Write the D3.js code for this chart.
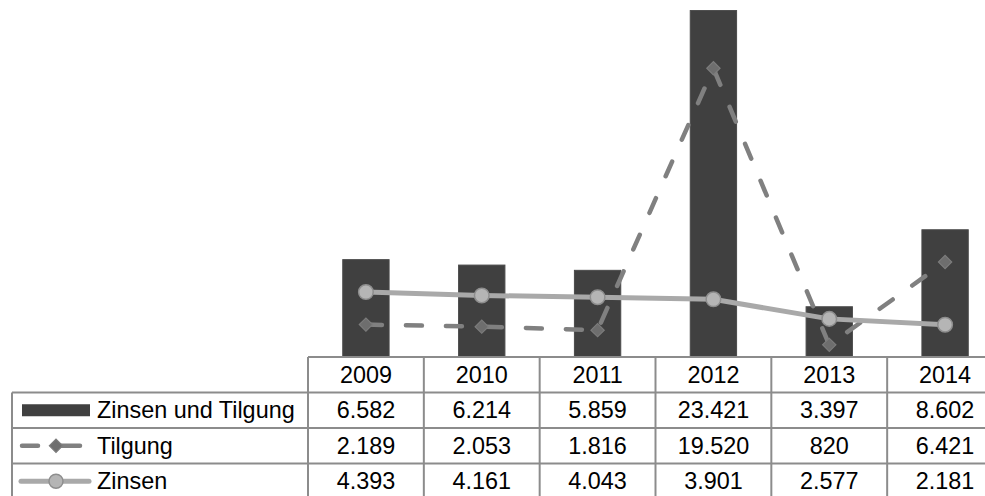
<!DOCTYPE html>
<html>
<head>
<meta charset="utf-8">
<script src="https://cdn.jsdelivr.net/npm/d3@7"></script>
<style>
  html, body { margin: 0; padding: 0; background: #fff; }
  svg { display: block; font-family: "Liberation Sans", Arial, sans-serif; }
</style>
</head>
<body>
<svg id="chart" width="985" height="496"></svg>
<script>
// Jahre und Werte (in Tsd.)
const years = ["2009", "2010", "2011", "2012", "2013", "2014"];
const zinsenUndTilgung = [6582, 6214, 5859, 23421, 3397, 8602];
const tilgung = [2189, 2053, 1816, 19520, 820, 6421];
const zinsen = [4393, 4161, 4043, 3901, 2577, 2181];
const seriesNames = ["Zinsen und Tilgung", "Tilgung", "Zinsen"];

const svg = d3.select("#chart");
const W = 985, H = 496;

const plotLeft = 308, plotRight = 1003;   // last column runs past the visible edge
const plotTop = 2, baseY = 357;
const rowH = 35.5;

const de = d3.formatLocale({ decimal: ",", thousands: ".", grouping: [3], currency: ["", " €"] });
const fmt = de.format(",d");

// Scales
const xCol = d3.scaleBand().domain(years).range([plotLeft, plotRight]).padding(0);
const xBar = d3.scaleBand().domain(years).range([plotLeft, plotRight])
  .paddingInner(0.6).paddingOuter(0.3);
const y = d3.scaleLinear().domain([0, 24000]).range([baseY, plotTop]);
const rows = d3.scaleBand().domain(["head"].concat(seriesNames))
  .range([baseY, baseY + rowH * 4]).padding(0);

const cx = d => xCol(d) + xCol.bandwidth() / 2;

const gridColor = "#8c8c8c";
const barColor = "#404040";
const tilColor = "#808080";
const zinColor = "#a9a9a9";
const diamondFill = "#6e6e6e", diamondStroke = "#7c7c7c";
const circleFill = "#b5b5b5", circleStroke = "#8e8e8e";

// Bars
svg.append("g").selectAll("rect")
  .data(years.map((yr, i) => ({ yr, v: zinsenUndTilgung[i] })))
  .join("rect")
  .attr("x", d => xBar(d.yr))
  .attr("width", xBar.bandwidth())
  .attr("y", d => y(d.v))
  .attr("height", d => baseY - y(d.v))
  .attr("fill", barColor)
  .attr("stroke", "#4a4a4a")
  .attr("stroke-width", 1);

// Data table grid
const grid = svg.append("g").attr("stroke", gridColor).attr("stroke-width", 2).attr("fill", "none");
grid.append("line").attr("x1", plotLeft).attr("x2", W).attr("y1", rows("head")).attr("y2", rows("head"));
seriesNames.forEach(s => {
  grid.append("line").attr("x1", 12).attr("x2", W).attr("y1", rows(s)).attr("y2", rows(s));
});
years.forEach(yr => {
  grid.append("line").attr("x1", xCol(yr)).attr("x2", xCol(yr))
    .attr("y1", baseY).attr("y2", H);
});
grid.append("line").attr("x1", 12).attr("x2", 12).attr("y1", rows(seriesNames[0])).attr("y2", H);

// Lines
const line = d3.line().x(d => cx(d.yr)).y(d => y(d.v)).curve(d3.curveLinear);
const tilData = years.map((yr, i) => ({ yr, v: tilgung[i] }));
const zinData = years.map((yr, i) => ({ yr, v: zinsen[i] }));
const diamondPath = d3.symbol().type(d3.symbolSquare).size(88);

// Tilgung (dashed, diamonds)
svg.append("path").datum(tilData)
  .attr("d", line)
  .attr("fill", "none")
  .attr("stroke", tilColor)
  .attr("stroke-width", 4.5)
  .attr("stroke-linecap", "round")
  .attr("stroke-dasharray", "16,24");

svg.append("g").selectAll("path")
  .data(tilData)
  .join("path")
  .attr("d", diamondPath)
  .attr("transform", d => `translate(${cx(d.yr)},${y(d.v)}) rotate(45)`)
  .attr("fill", diamondFill)
  .attr("stroke", diamondStroke)
  .attr("stroke-width", 1.2);

// Zinsen (solid, circles)
svg.append("path").datum(zinData)
  .attr("d", line)
  .attr("fill", "none")
  .attr("stroke", zinColor)
  .attr("stroke-width", 5)
  .attr("stroke-linecap", "round");

svg.append("g").selectAll("circle")
  .data(zinData)
  .join("circle")
  .attr("cx", d => cx(d.yr))
  .attr("cy", d => y(d.v))
  .attr("r", 7.3)
  .attr("fill", circleFill)
  .attr("stroke", circleStroke)
  .attr("stroke-width", 1.5);

// Table text
const fontSize = 23.4;
const textG = svg.append("g").attr("font-size", fontSize).attr("fill", "#000");
const baseOff = rowH / 2 + 8.2;

textG.selectAll("text.yr")
  .data(years)
  .join("text")
  .attr("class", "yr")
  .attr("x", d => cx(d))
  .attr("y", rows("head") + baseOff)
  .attr("text-anchor", "middle")
  .text(d => d);

const tableRows = [
  { name: seriesNames[0], vals: zinsenUndTilgung },
  { name: seriesNames[1], vals: tilgung },
  { name: seriesNames[2], vals: zinsen }
];

tableRows.forEach(r => {
  const ry = rows(r.name);
  textG.append("text")
    .attr("x", 97)
    .attr("y", ry + baseOff)
    .text(r.name);
  textG.selectAll(null)
    .data(years.map((yr, i) => ({ yr, v: r.vals[i] })))
    .join("text")
    .attr("x", d => cx(d.yr))
    .attr("y", ry + baseOff)
    .attr("text-anchor", "middle")
    .text(d => fmt(d.v));
});

// Legend keys in the table
const keyMid = name => rows(name) + rowH / 2;
svg.append("rect")
  .attr("x", 22).attr("width", 68)
  .attr("y", keyMid(seriesNames[0]) - 6).attr("height", 12)
  .attr("fill", barColor);

svg.append("line")
  .attr("x1", 22).attr("x2", 80)
  .attr("y1", keyMid(seriesNames[1])).attr("y2", keyMid(seriesNames[1]))
  .attr("stroke", tilColor).attr("stroke-width", 4.5)
  .attr("stroke-linecap", "round")
  .attr("stroke-dasharray", "16,20,30");
svg.append("path")
  .attr("d", diamondPath)
  .attr("transform", `translate(56,${keyMid(seriesNames[1])}) rotate(45)`)
  .attr("fill", diamondFill).attr("stroke", diamondStroke).attr("stroke-width", 1.2);

svg.append("line")
  .attr("x1", 21).attr("x2", 89)
  .attr("y1", keyMid(seriesNames[2])).attr("y2", keyMid(seriesNames[2]))
  .attr("stroke", zinColor).attr("stroke-width", 5)
  .attr("stroke-linecap", "round");
svg.append("circle")
  .attr("cx", 56).attr("cy", keyMid(seriesNames[2])).attr("r", 7)
  .attr("fill", circleFill).attr("stroke", circleStroke).attr("stroke-width", 1.5);
</script>
</body>
</html>
